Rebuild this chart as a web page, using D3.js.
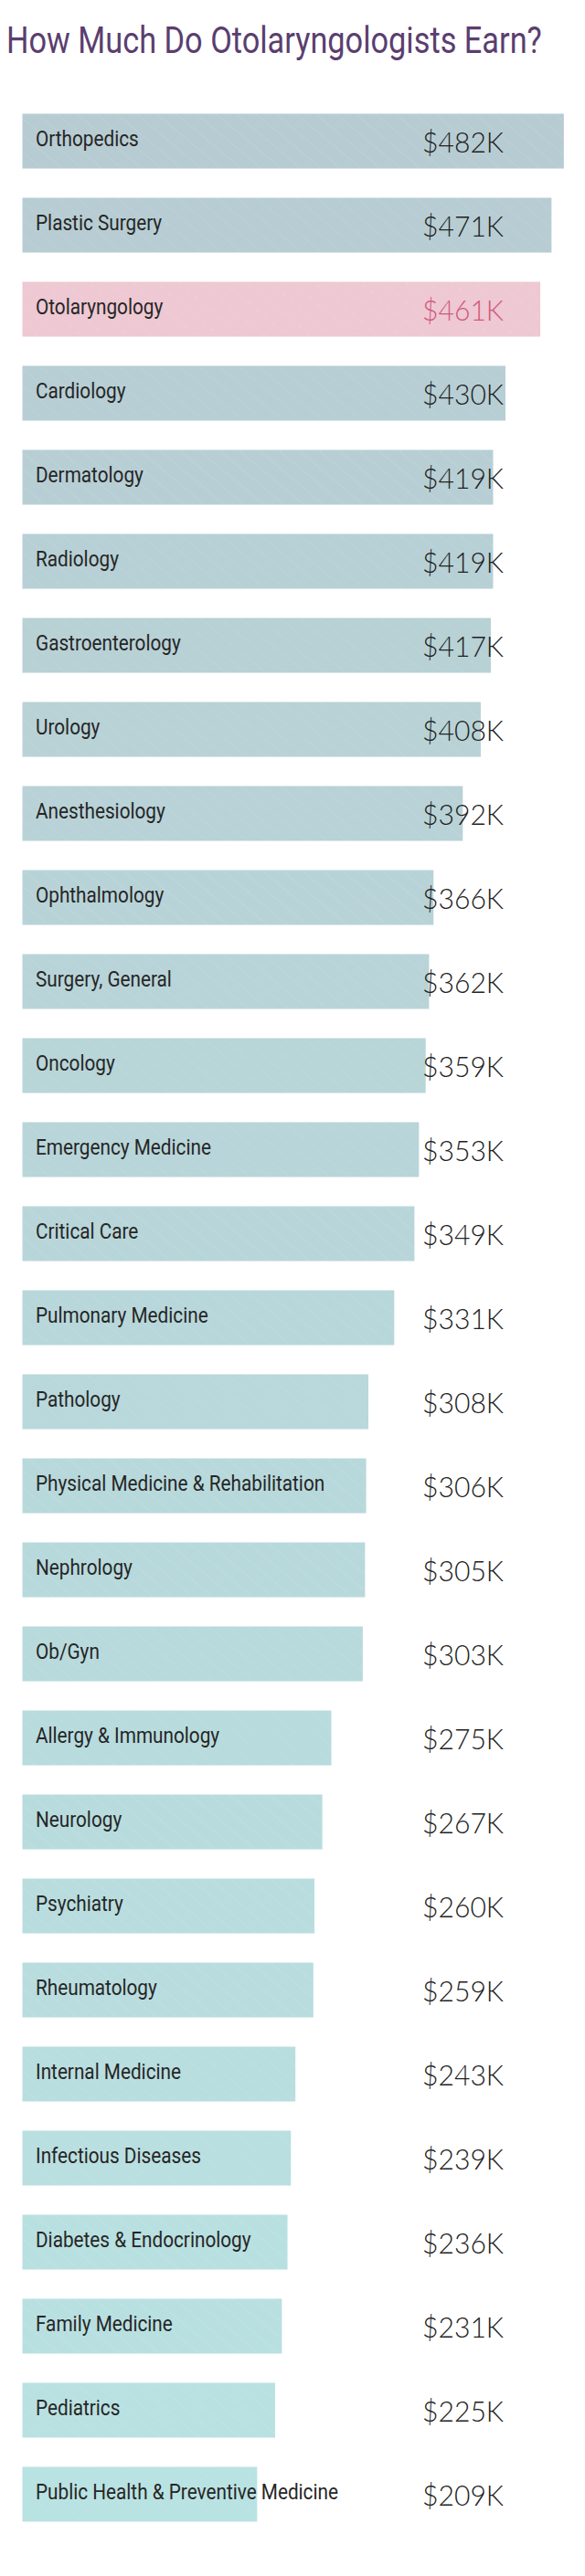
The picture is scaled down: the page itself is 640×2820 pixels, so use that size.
<!DOCTYPE html>
<html>
<head>
<meta charset="utf-8">
<script src="https://cdn.jsdelivr.net/npm/d3@7"></script>
<style>
  html, body { margin: 0; padding: 0; background: #fff; }
  svg { display: block; }
</style>
</head>
<body>
<svg id="chart" width="640" height="2820"></svg>
<script>
const title = "How Much Do Otolaryngologists Earn?";
const categories = [
  "Orthopedics", "Plastic Surgery", "Otolaryngology", "Cardiology", "Dermatology",
  "Radiology", "Gastroenterology", "Urology", "Anesthesiology", "Ophthalmology",
  "Surgery, General", "Oncology", "Emergency Medicine", "Critical Care",
  "Pulmonary Medicine", "Pathology", "Physical Medicine & Rehabilitation",
  "Nephrology", "Ob/Gyn", "Allergy & Immunology", "Neurology", "Psychiatry",
  "Rheumatology", "Internal Medicine", "Infectious Diseases",
  "Diabetes & Endocrinology", "Family Medicine", "Pediatrics",
  "Public Health & Preventive Medicine"
];
const values = [482, 471, 461, 430, 419, 419, 417, 408, 392, 366, 362, 359, 353, 349,
  331, 308, 306, 305, 303, 275, 267, 260, 259, 243, 239, 236, 231, 225, 209];
const highlight = "Otolaryngology";

const data = categories.map((c, i) => ({ name: c, value: values[i], i }));

const svg = d3.select("#chart");
const defs = svg.append("defs");

// subtle diagonal stripe texture
const pat = defs.append("pattern")
  .attr("id", "stripes").attr("patternUnits", "userSpaceOnUse")
  .attr("width", 14).attr("height", 14)
  .attr("patternTransform", "rotate(-50)");
pat.append("line").attr("x1", 0).attr("y1", 0).attr("x2", 0).attr("y2", 14)
  .attr("stroke", "#ffffff").attr("stroke-width", 1).attr("stroke-opacity", 0.15);
const pat2 = defs.append("pattern")
  .attr("id", "dots").attr("patternUnits", "userSpaceOnUse")
  .attr("width", 16).attr("height", 12)
  .attr("patternTransform", "rotate(-50)");
pat2.append("line").attr("x1", 0).attr("y1", 0).attr("x2", 0).attr("y2", 3)
  .attr("stroke", "#ffffff").attr("stroke-width", 1).attr("stroke-opacity", 0.35);

const x = d3.scaleLinear().domain([0, 500]).range([24.5, 639]);
const y = d3.scaleBand().domain(categories).range([124.5, 124.5 + 92 * 29 - 32])
  .paddingInner(32 / 92).paddingOuter(0);
const colorScale = d3.scaleLinear().domain([0, categories.length - 1])
  .range(["#b7ccd2", "#b9e2e2"]).interpolate(d3.interpolateRgb);

// title
const t = svg.append("text")
  .attr("font-family", "Roboto, 'Noto Sans', sans-serif")
  .attr("font-size", 41)
  .attr("fill", "#5a3e6f")
  .text(title);
{
  const w = t.node().getComputedTextLength();
  const sx = 586 / w;
  t.attr("transform", `translate(7,58) scale(${sx},1)`);
}

const g = svg.append("g");
const rows = g.selectAll("g.row").data(data).join("g").attr("class", "row");

rows.append("rect")
  .attr("x", x(0))
  .attr("y", d => y(d.name))
  .attr("width", d => x(d.value) - x(0))
  .attr("height", y.bandwidth())
  .attr("fill", d => d.name === highlight ? "#eec8d2" : colorScale(d.i));

rows.append("rect")
  .attr("x", x(0))
  .attr("y", d => y(d.name))
  .attr("width", d => x(d.value) - x(0))
  .attr("height", y.bandwidth())
  .attr("fill", d => d.name === highlight ? "url(#dots)" : "url(#stripes)");

// category labels (condensed look)
const labels = rows.append("text")
  .attr("font-family", "Roboto, 'Noto Sans', sans-serif")
  .attr("font-size", 24)
  .attr("fill", "#262626")
  .text(d => d.name);
let labelScale = 1;
{
  const sample = labels.filter(d => d.name === "Emergency Medicine").node();
  labelScale = 192 / sample.getComputedTextLength();
}
labels.attr("transform", d => `translate(39,${y(d.name) + 35.5}) scale(${labelScale},1)`);

// value labels
const vals = rows.append("text")
  .attr("font-family", "Lato, 'Open Sans', sans-serif")
  .attr("font-weight", 300)
  .attr("font-size", 31)
  .attr("fill", d => d.name === highlight ? "#d0587c" : "#222222")
  .text(d => `$${d.value}K`);
let valScale = 1;
{
  const sample = vals.filter(d => d.value === 482).node();
  valScale = 89 / sample.getComputedTextLength();
}
vals.attr("transform", d => `translate(462,${y(d.name) + 42}) scale(${valScale},1)`);
</script>
</body>
</html>
